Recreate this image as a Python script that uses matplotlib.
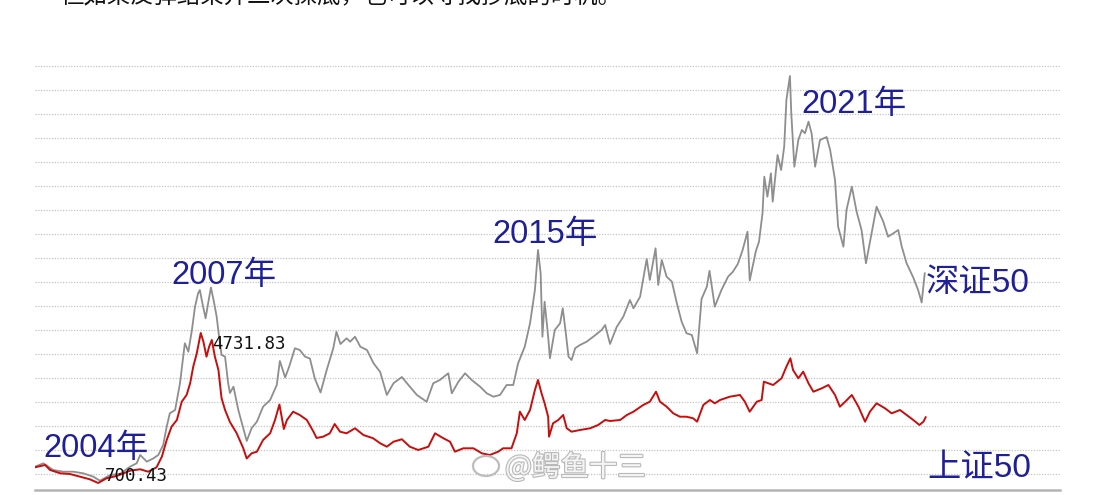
import matplotlib
matplotlib.use("Agg")
import matplotlib.pyplot as plt
import matplotlib.patheffects as pe
from matplotlib.patches import Ellipse
import numpy as np

# ---------------- data ----------------
# 上证50 (red) : decimal year, index points
sz50_years = [2004.00, 2004.23, 2004.34, 2004.57, 2004.79, 2005.02, 2005.24, 2005.43, 2005.62, 2005.85,
              2006.15, 2006.38, 2006.56, 2006.75, 2006.87, 2006.98, 2007.09, 2007.21, 2007.32, 2007.43,
              2007.51, 2007.58, 2007.66, 2007.75, 2007.81, 2007.88, 2007.94, 2008.00, 2008.07, 2008.15,
              2008.22, 2008.30, 2008.41, 2008.56, 2008.71, 2008.79, 2008.90, 2009.02, 2009.16, 2009.32,
              2009.43, 2009.53, 2009.63, 2009.70, 2009.84, 2009.99, 2010.15, 2010.30, 2010.37, 2010.52,
              2010.67, 2010.78, 2010.90, 2011.05, 2011.24, 2011.43, 2011.65, 2011.81, 2011.96, 2012.11,
              2012.30, 2012.48, 2012.67, 2012.90, 2013.05, 2013.24, 2013.39, 2013.50, 2013.69, 2013.92,
              2014.11, 2014.29, 2014.48, 2014.59, 2014.78, 2014.90, 2014.97, 2015.08, 2015.20, 2015.31,
              2015.38, 2015.46, 2015.53, 2015.61, 2015.63, 2015.72, 2015.84, 2015.95, 2016.03, 2016.14,
              2016.33, 2016.56, 2016.74, 2016.90, 2017.01, 2017.24, 2017.39, 2017.54, 2017.76, 2017.91,
              2018.05, 2018.14, 2018.29, 2018.44, 2018.59, 2018.74, 2018.89, 2018.98, 2019.12, 2019.27,
              2019.38, 2019.50, 2019.72, 2019.95, 2020.06, 2020.17, 2020.33, 2020.44, 2020.49, 2020.70,
              2020.89, 2021.00, 2021.09, 2021.15, 2021.27, 2021.38, 2021.50, 2021.61, 2021.80, 2021.95,
              2022.10, 2022.21, 2022.33, 2022.48, 2022.63, 2022.78, 2022.89, 2023.04, 2023.23, 2023.38,
              2023.57, 2023.72, 2023.87, 2024.01, 2024.10, 2024.15]
sz50_values = [1122, 1184, 1050, 961, 942, 870, 800, 700.43, 827, 889,
               1031, 1069, 1004, 1122, 1407, 1856, 2214, 2394, 2885, 3066,
               3380, 3826, 4186, 4731.83, 4498, 4095, 4364, 4544, 4095, 3737,
               2985, 2662, 2340, 2044, 1641, 1359, 1498, 1541, 1856, 2036,
               2394, 2810, 2152, 2394, 2617, 2528, 2394, 2079, 1910, 1945,
               2036, 2286, 2079, 2036, 2171, 1990, 1902, 1767, 1676, 1810,
               1875, 1676, 1587, 1676, 2036, 1902, 1810, 1542, 1633, 1633,
               1498, 1453, 1542, 1633, 1633, 2036, 2617, 2394, 2662, 3200,
               3469, 3111, 2842, 2482, 1945, 2305, 2394, 2528, 2171, 2079,
               2125, 2171, 2259, 2394, 2367, 2394, 2528, 2617, 2797, 2885,
               3154, 2885, 2751, 2573, 2482, 2482, 2439, 2348, 2797, 2931,
               2842, 2931, 3020, 3066, 2885, 2617, 2885, 2931, 3423, 3334,
               3514, 3826, 4052, 3737, 3514, 3692, 3380, 3154, 3245, 3334,
               3066, 2751, 2885, 3066, 2751, 2348, 2617, 2842, 2708, 2573,
               2662, 2528, 2394, 2259, 2348, 2466]

# 深证50 (grey) : decimal year, value on the same axis
szc50_years = [2004.00, 2004.19, 2004.41, 2004.64, 2004.87, 2005.09, 2005.32, 2005.47, 2005.70, 2005.92,
               2006.15, 2006.30, 2006.38, 2006.53, 2006.68, 2006.79, 2006.90, 2006.98, 2007.05, 2007.17,
               2007.28, 2007.39, 2007.47, 2007.55, 2007.62, 2007.69, 2007.73, 2007.78, 2007.86, 2007.91,
               2007.98, 2008.04, 2008.11, 2008.16, 2008.22, 2008.30, 2008.37, 2008.41, 2008.49, 2008.60,
               2008.79, 2008.90, 2009.02, 2009.16, 2009.32, 2009.47, 2009.54, 2009.66, 2009.75, 2009.88,
               2009.99, 2010.11, 2010.22, 2010.33, 2010.46, 2010.60, 2010.75, 2010.82, 2010.91, 2011.05,
               2011.13, 2011.24, 2011.36, 2011.51, 2011.66, 2011.81, 2011.96, 2012.11, 2012.30, 2012.48,
               2012.64, 2012.86, 2013.01, 2013.16, 2013.35, 2013.43, 2013.58, 2013.73, 2013.88, 2014.07,
               2014.22, 2014.37, 2014.52, 2014.67, 2014.82, 2014.93, 2015.08, 2015.20, 2015.31, 2015.38,
               2015.44, 2015.48, 2015.53, 2015.61, 2015.65, 2015.76, 2015.88, 2015.94, 2016.01, 2016.07,
               2016.14, 2016.22, 2016.33, 2016.48, 2016.63, 2016.82, 2016.90, 2017.01, 2017.16, 2017.31,
               2017.46, 2017.54, 2017.69, 2017.84, 2017.91, 2018.04, 2018.10, 2018.18, 2018.29, 2018.41,
               2018.52, 2018.63, 2018.74, 2018.86, 2018.98, 2019.08, 2019.20, 2019.26, 2019.38, 2019.53,
               2019.68, 2019.79, 2019.90, 2020.01, 2020.12, 2020.17, 2020.31, 2020.38, 2020.46, 2020.50,
               2020.57, 2020.65, 2020.69, 2020.80, 2020.88, 2020.95, 2021.00, 2021.08, 2021.11, 2021.18,
               2021.27, 2021.35, 2021.42, 2021.50, 2021.57, 2021.65, 2021.76, 2021.91, 2021.99, 2022.10,
               2022.17, 2022.29, 2022.36, 2022.48, 2022.59, 2022.70, 2022.80, 2022.89, 2023.04, 2023.19,
               2023.30, 2023.42, 2023.53, 2023.61, 2023.72, 2023.87, 2023.98, 2024.06, 2024.13]
szc50_values = [1138, 1230, 1050, 1004, 1004, 961, 870, 762, 915, 942,
                1138, 1230, 1453, 1273, 1364, 1453, 1722, 2214, 2573, 2662,
                3380, 4455, 4229, 4812, 5439, 5799, 5887, 5573, 5127, 5484,
                5955, 5619, 5170, 4678, 4141, 4095, 3380, 3119, 3289, 2662,
                1829, 2171, 2348, 2751, 2931, 3334, 3979, 3536, 3826, 4321,
                4275, 4095, 4047, 3509, 3133, 3737, 4329, 4767, 4436, 4589,
                4498, 4632, 4364, 4275, 3917, 3684, 3066, 3380, 3549, 3289,
                3066, 2885, 3380, 3469, 3649, 3111, 3423, 3649, 3469, 3289,
                3111, 3020, 3066, 3334, 3334, 3917, 4364, 4993, 5887, 6963,
                6336, 4632, 5573, 4632, 4052, 4812, 4993, 5396, 4724, 4095,
                4006, 4321, 4409, 4498, 4632, 4812, 4947, 4436, 4893, 5170,
                5619, 5396, 5707, 6721, 6156, 7008, 6022, 6694, 6245, 6111,
                5538, 5036, 4724, 4678, 4186, 5646, 5976, 6403, 5439, 5887,
                6245, 6379, 6586, 6963, 7454, 6143, 6936, 7186, 7957, 8933,
                8395, 9024, 8261, 9516, 9113, 9739, 10994, 11639, 10645, 9201,
                9919, 10188, 10099, 10411, 10099, 9201, 9919, 9999, 9650, 8844,
                7589, 7051, 8038, 8664, 7984, 7500, 6605, 7178, 8126, 7729,
                7320, 7411, 7500, 7051, 6605, 6224, 5887, 5552, 6336]

year_labels = ["2004年", "2007年", "2015年", "2021年"]
series_labels = ["深证50", "上证50"]
watermark = "@鳄鱼十三"
top_text = "但如果反弹结束并二次探底，也可以寻找抄底的时机。"

# ---------------- figure ----------------
W, H = 1111, 495
fig = plt.figure(figsize=(W / 100, H / 100), dpi=100)
fig.patch.set_facecolor("white")

def fp(x, y):
    return (x / W, 1 - y / H)

ax = fig.add_axes([35 / W, 1 - 490 / H, 1025 / W, 430 / H])
ax.set_xlim(2004.0, 2027.19)
ax.set_ylim(512, 12069)
ax.set_facecolor("white")
for s in ["top", "left", "right"]:
    ax.spines[s].set_visible(False)
ax.spines["bottom"].set_color("#b4b4b4")
ax.spines["bottom"].set_linewidth(1.8)
ax.set_xticks([])
ax.set_yticks([])

# dotted horizontal grid
for gv in np.arange(942.3, 11950, 645.0):
    ax.axhline(gv, color="#c4c4c4", lw=0.9, ls=(0, (1, 1.2)), zorder=0)

ax.plot(szc50_years, szc50_values, color="#8e8e8e", lw=1.3, zorder=2)
ax.plot(sz50_years, sz50_values, color="#c80d0d", lw=1.4, zorder=3)

cjk = ["Liberation Sans", "Noto Sans CJK SC"]
blue = "#1f1f98"

# year labels (left x, baseline y in pixels)
label_pos = [(43, 457), (171, 284), (492, 243), (801, 113)]
for txt, (x, y) in zip(year_labels, label_pos):
    fig.text(*fp(x, y), txt, family=cjk, fontsize=23.5, color=blue,
             ha="left", va="baseline")

fig.text(*fp(926, 292), series_labels[0], family=cjk, fontsize=24, color=blue,
         ha="left", va="baseline")
fig.text(*fp(927, 477), series_labels[1], family=cjk, fontsize=24, color=blue,
         ha="left", va="baseline")

# value labels anchored to the red series extremes
vals = np.array(sz50_values)
yrs = np.array(sz50_years)
i_hi = int(np.argmax(vals))
i_lo = int(np.argmin(vals))
ax.annotate(f"{vals[i_hi]:.2f}", (yrs[i_hi], vals[i_hi]), xytext=(8, -8),
            textcoords="offset points", fontsize=12.5, family="DejaVu Sans Mono",
            color="#111111", ha="left", va="center")
ax.annotate(f"{vals[i_lo]:.2f}", (yrs[i_lo], vals[i_lo]), xytext=(5, 5),
            textcoords="offset points", fontsize=12.5, family="DejaVu Sans Mono",
            color="#111111", ha="left", va="center")

# watermark (weibo-like logo + handle)
fig.patches.append(Ellipse(fp(486, 466), 26 / W, 20 / H, transform=fig.transFigure,
                           fill=False, edgecolor="#bdbdbd", lw=1.6, zorder=5))
fig.text(*fp(505, 476), watermark, family=["Noto Sans CJK SC", "DejaVu Sans"],
         fontsize=20.5, color="#f4f4f4", ha="left", va="baseline", zorder=5,
         path_effects=[pe.withStroke(linewidth=1.6, foreground="#b9b9b9")])

# text cut off at the very top (as in the source screenshot)
fig.text(*fp(60, 8), top_text, family=["Noto Sans CJK SC", "DejaVu Sans"],
         fontsize=16.8, color="#111111", ha="left", va="bottom")

fig.savefig("out.png", dpi=100, facecolor="white")
